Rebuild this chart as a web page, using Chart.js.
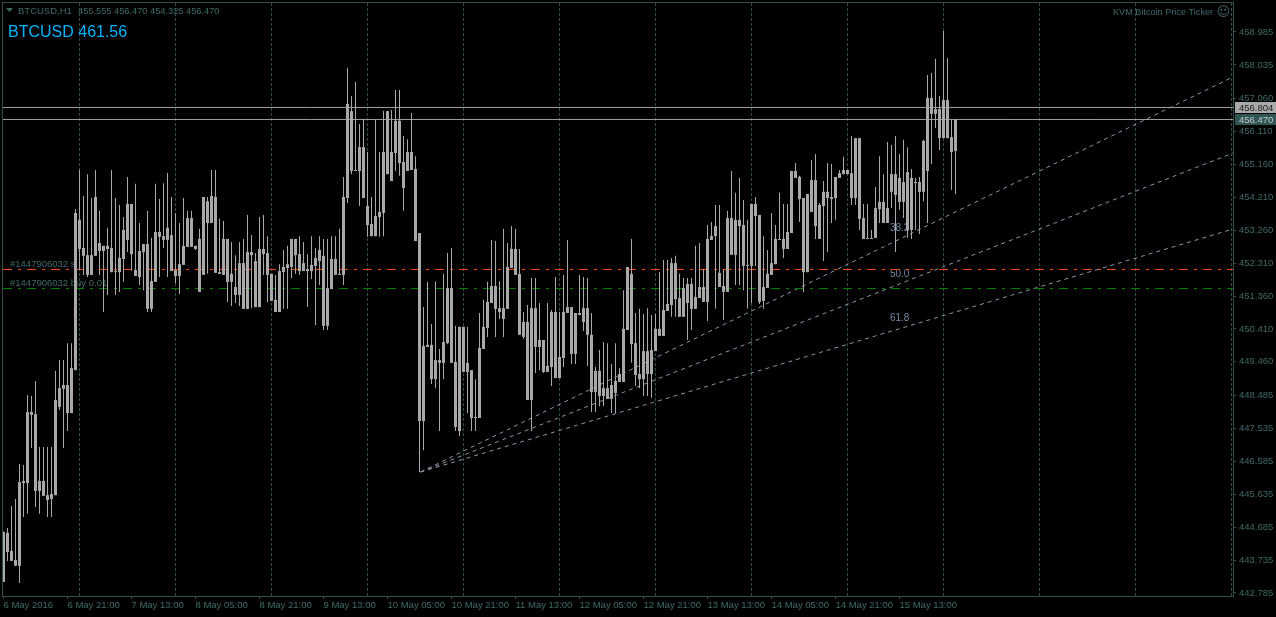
<!DOCTYPE html>
<html>
<head>
<meta charset="utf-8">
<title>BTCUSD,H1</title>
<script src="https://cdn.jsdelivr.net/npm/chart.js@4"></script>
<style>
    html, body { margin: 0; padding: 0; background: #000; overflow: hidden; }
    canvas { display: block; }
</style>
</head>
<body>
<canvas id="chart" width="1276" height="617"></canvas>
<script>
// One value per H1 bar. All bars are the same grey,
// so only the body's top and bottom can be told apart, not open and close.
const highs = [
    444.55, 444.66, 445.30, 445.50, 446.51, 446.48, 448.50, 448.47, 448.91, 447.00,
    447.00, 447.00, 447.00, 449.20, 449.51, 449.51, 450.00, 450.00, 453.87, 455.00,
    454.25, 454.88, 454.19, 455.00, 453.82, 452.81, 453.33, 455.00, 454.19, 453.99,
    453.64, 454.80, 454.02, 454.60, 453.47, 452.86, 453.82, 453.04, 454.60, 454.16,
    454.62, 454.91, 454.22, 453.76, 453.47, 454.19, 453.82, 453.82, 452.81, 453.30,
    454.22, 454.22, 455.00, 455.00, 453.59, 453.53, 453.01, 452.92, 452.54, 452.92,
    453.01, 453.70, 453.12, 452.60, 453.64, 453.70, 453.09, 452.00, 451.97, 452.28,
    452.69, 452.81, 453.01, 453.01, 453.09, 452.92, 452.57, 453.09, 452.75, 453.09,
    453.01, 453.01, 453.09, 453.09, 453.30, 454.80, 457.95, 457.14, 457.54, 456.33,
    456.47, 455.52, 454.22, 456.47, 455.52, 456.70, 456.70, 456.73, 457.31, 457.31,
    455.98, 455.89, 456.65, 455.40, 453.18, 451.04, 451.77, 450.55, 451.79, 449.83,
    452.00, 452.60, 452.75, 450.50, 450.47, 450.47, 450.47, 449.22, 448.96, 450.87,
    451.25, 451.77, 452.98, 452.95, 451.79, 453.30, 452.89, 453.38, 453.30, 452.72,
    450.90, 451.10, 451.88, 451.88, 451.16, 450.09, 451.16, 450.96, 451.91, 450.90,
    451.97, 452.98, 451.04, 450.87, 451.97, 451.91, 451.88, 450.87, 449.31, 449.80,
    450.03, 450.00, 449.40, 450.00, 449.28, 451.53, 452.20, 453.01, 450.87, 450.99,
    450.84, 451.01, 450.81, 450.84, 452.05, 452.40, 452.40, 452.46, 452.52, 452.00,
    451.88, 451.88, 451.88, 452.81, 452.89, 452.14, 453.41, 453.50, 453.99, 453.99,
    452.11, 453.82, 454.97, 454.34, 454.77, 454.13, 453.56, 454.02, 454.22, 453.70,
    453.09, 452.69, 453.76, 453.41, 454.34, 454.02, 454.02, 454.97, 455.20, 454.83,
    454.19, 454.31, 455.29, 455.46, 454.05, 454.68, 455.20, 455.17, 454.80, 455.00,
    455.38, 455.00, 455.98, 455.92, 455.92, 454.02, 454.02, 453.27, 454.51, 455.40,
    454.88, 455.81, 455.72, 455.98, 455.46, 455.87, 455.66, 455.03, 454.77, 454.80,
    455.87, 457.74, 457.80, 458.21, 457.14, 459.01, 458.23, 456.44, 456.47
];
const bodyTops = [
    444.55, 444.52, 444.00, 443.74, 445.99, 446.02, 448.01, 448.01, 447.95, 446.02,
    446.02, 445.61, 445.64, 448.36, 448.70, 448.79, 448.79, 449.28, 453.76, 453.56,
    452.75, 452.54, 452.54, 454.22, 452.89, 452.81, 452.81, 452.75, 452.08, 452.46,
    453.27, 454.02, 454.02, 452.11, 452.66, 452.86, 452.86, 451.79, 453.21, 453.21,
    453.09, 453.33, 453.12, 452.11, 452.28, 452.81, 453.61, 453.61, 452.81, 453.01,
    454.22, 454.10, 454.25, 454.22, 452.05, 453.01, 453.01, 452.00, 451.62, 452.31,
    452.31, 452.63, 452.63, 452.37, 452.72, 452.72, 452.60, 452.00, 451.25, 452.08,
    452.20, 452.28, 453.01, 453.01, 452.57, 452.31, 452.14, 452.26, 452.46, 452.69,
    452.52, 451.59, 452.43, 452.43, 452.00, 454.22, 456.91, 456.70, 455.00, 455.66,
    455.66, 453.96, 453.44, 453.67, 453.79, 455.52, 456.70, 455.52, 456.42, 456.42,
    455.23, 455.52, 455.52, 455.03, 453.18, 449.92, 449.95, 449.95, 449.51, 449.51,
    450.03, 451.59, 451.59, 449.46, 450.47, 450.47, 449.43, 449.22, 447.87, 449.86,
    450.47, 451.19, 451.65, 451.65, 451.01, 451.01, 452.20, 452.72, 452.72, 452.00,
    450.61, 450.61, 451.01, 451.01, 450.09, 450.09, 449.34, 450.90, 450.90, 449.60,
    450.90, 451.04, 451.04, 450.87, 450.87, 451.01, 451.01, 450.24, 449.20, 449.20,
    448.70, 448.70, 448.79, 448.91, 449.11, 450.41, 452.20, 452.00, 450.00, 449.11,
    449.77, 449.77, 449.80, 450.41, 450.41, 450.96, 451.13, 452.31, 452.31, 451.30,
    451.59, 451.71, 451.71, 451.33, 451.62, 451.62, 453.01, 453.09, 453.38, 452.03,
    451.65, 453.61, 453.61, 453.56, 453.56, 453.41, 452.26, 454.02, 454.02, 453.70,
    451.62, 452.00, 452.31, 453.01, 453.01, 453.01, 453.21, 454.97, 454.97, 454.80,
    454.19, 454.31, 454.71, 454.71, 453.99, 454.37, 454.37, 454.22, 454.80, 454.91,
    455.00, 455.00, 454.91, 455.92, 455.92, 453.61, 453.04, 453.04, 453.90, 454.08,
    454.08, 453.90, 454.88, 454.88, 454.77, 454.65, 454.94, 454.77, 454.65, 454.65,
    455.84, 457.08, 457.08, 456.76, 456.76, 457.02, 457.02, 455.95, 456.47
];
const bodyBottoms = [
    443.10, 443.97, 443.71, 443.57, 443.57, 445.96, 445.96, 447.93, 445.73, 445.73,
    445.59, 445.47, 445.50, 445.61, 448.16, 448.68, 447.98, 447.98, 449.22, 452.72,
    452.52, 451.97, 451.97, 452.52, 452.66, 452.66, 452.72, 452.05, 452.05, 452.05,
    452.43, 452.98, 452.57, 451.94, 451.91, 452.63, 450.99, 450.99, 451.77, 453.07,
    452.98, 452.98, 452.08, 451.94, 451.94, 452.26, 452.78, 452.78, 452.72, 451.48,
    451.97, 453.47, 453.47, 452.03, 452.00, 451.97, 451.77, 451.77, 451.39, 451.39,
    450.99, 450.99, 452.54, 451.04, 451.04, 452.57, 451.97, 451.22, 450.90, 450.90,
    452.05, 452.17, 452.20, 452.54, 452.08, 452.08, 452.08, 452.08, 452.23, 452.37,
    450.50, 450.50, 451.56, 451.97, 451.97, 451.97, 454.19, 454.97, 454.97, 454.97,
    454.19, 453.41, 453.09, 453.09, 453.64, 453.76, 454.88, 454.68, 455.49, 455.20,
    454.48, 454.97, 455.00, 452.95, 447.75, 447.75, 449.89, 448.96, 448.96, 449.43,
    449.43, 450.00, 449.43, 447.58, 447.46, 449.17, 449.17, 447.84, 447.84, 447.84,
    449.83, 450.44, 451.16, 450.99, 450.90, 450.70, 450.99, 452.17, 451.97, 450.24,
    450.18, 448.36, 448.36, 449.89, 449.89, 449.17, 449.17, 449.31, 448.99, 448.99,
    449.57, 450.87, 449.69, 449.69, 450.81, 450.61, 450.24, 448.59, 448.59, 448.47,
    448.47, 448.39, 448.39, 448.56, 448.88, 448.88, 450.38, 449.97, 449.08, 448.96,
    448.96, 449.11, 449.11, 449.77, 450.21, 450.21, 450.93, 451.10, 451.27, 450.76,
    450.76, 451.16, 450.99, 450.99, 451.30, 451.19, 451.19, 452.98, 453.09, 451.62,
    451.48, 451.48, 452.55, 452.55, 453.38, 452.23, 452.23, 452.23, 453.67, 451.19,
    451.22, 451.59, 451.97, 452.28, 452.98, 452.72, 452.72, 453.18, 454.77, 454.16,
    452.05, 452.05, 453.79, 453.38, 453.01, 453.96, 454.19, 454.16, 454.19, 454.77,
    454.88, 454.88, 454.19, 454.19, 453.59, 453.01, 453.01, 453.01, 453.04, 453.87,
    453.47, 453.47, 454.37, 454.28, 454.08, 454.08, 453.27, 453.27, 454.62, 454.37,
    454.37, 454.97, 456.62, 456.62, 455.92, 455.92, 455.92, 455.52, 455.55
];
const lows = [
    443.10, 443.71, 443.71, 443.57, 443.07, 444.98, 445.07, 446.97, 445.27, 445.07,
    445.59, 444.98, 444.98, 445.61, 448.07, 446.97, 447.46, 447.98, 449.22, 452.11,
    451.97, 451.91, 451.97, 452.52, 451.97, 450.90, 451.39, 452.05, 451.39, 451.48,
    451.77, 452.63, 452.08, 451.94, 451.68, 451.53, 450.90, 450.90, 451.77, 451.91,
    452.75, 451.91, 452.08, 451.74, 451.42, 452.26, 452.78, 452.78, 452.69, 451.48,
    451.97, 452.00, 453.47, 452.03, 452.00, 451.97, 451.19, 451.07, 451.16, 451.07,
    450.99, 450.99, 451.01, 451.04, 451.04, 451.97, 451.19, 451.22, 450.90, 450.90,
    450.99, 450.99, 451.88, 452.00, 451.97, 452.08, 451.04, 451.85, 450.52, 451.68,
    450.38, 450.38, 451.56, 451.97, 451.97, 451.68, 454.05, 454.88, 454.97, 453.96,
    454.19, 453.07, 453.09, 453.09, 453.07, 453.09, 454.88, 454.68, 454.97, 454.83,
    453.82, 454.97, 455.00, 452.95, 446.28, 446.91, 449.89, 448.82, 448.70, 447.46,
    448.96, 449.97, 449.43, 447.46, 447.32, 449.17, 447.98, 447.46, 447.46, 447.84,
    449.83, 450.18, 451.16, 450.18, 450.70, 450.18, 450.99, 452.17, 451.97, 450.24,
    450.12, 448.36, 447.46, 449.14, 449.22, 449.14, 449.17, 448.76, 448.99, 448.99,
    449.31, 450.87, 449.40, 449.40, 450.81, 450.35, 449.34, 448.01, 448.01, 448.18,
    448.18, 448.39, 447.98, 447.98, 448.88, 448.88, 450.38, 449.43, 448.76, 448.70,
    448.47, 448.47, 448.42, 449.77, 450.21, 450.21, 450.93, 450.76, 450.76, 450.76,
    450.76, 450.09, 450.38, 450.99, 451.30, 451.19, 450.64, 452.98, 450.99, 451.62,
    450.67, 451.48, 452.55, 451.68, 451.68, 451.53, 450.99, 451.16, 452.23, 451.13,
    450.99, 451.59, 451.97, 452.28, 452.98, 452.46, 452.72, 453.18, 454.77, 453.50,
    451.48, 452.05, 453.79, 453.01, 453.01, 452.37, 452.63, 453.47, 453.56, 454.77,
    454.88, 454.88, 453.99, 453.99, 453.27, 453.01, 453.01, 453.01, 453.04, 453.47,
    453.47, 453.47, 453.90, 452.63, 453.85, 453.61, 453.04, 453.01, 453.27, 453.15,
    454.10, 453.47, 455.17, 456.21, 455.58, 455.92, 455.92, 454.42, 454.30
];

// axes
const xMin = -0.125;
const xMax = 307.375;
const yMin = 442.698;
const yMax = 459.822;
const timeTicks = [0, 16, 32, 48, 64, 80, 96, 112, 128, 144, 160, 176, 192, 208, 224];
const timeLabels = [
    "6 May 2016", "6 May 21:00", "7 May 13:00", "8 May 05:00", "8 May 21:00",
    "9 May 13:00", "10 May 05:00", "10 May 21:00", "11 May 13:00", "12 May 05:00",
    "12 May 21:00", "13 May 13:00", "14 May 05:00", "14 May 21:00", "15 May 13:00"
];
const gridBars = [19, 43, 67, 91, 115, 139, 163, 187, 211, 235, 259, 283, 307];
const priceTicks = [
    458.985, 458.035, 457.060, 456.110, 455.160, 454.210, 453.260, 452.310, 451.360,
    450.410, 449.460, 448.485, 447.535, 446.585, 445.635, 444.685, 443.735, 442.785
];

// levels and Fibonacci fan
const levelPrices = [456.805, 456.458];
const slPrice = 452.127;
const buyPrice = 451.578;
const fanStart = { x: 104.25, y: 446.279 };
const fanEnds = [457.686, 455.490, 453.296];
const fanLabels = [
    { text: "38.2", x: 221.6, y: 453.32 },
    { text: "50.0", x: 221.6, y: 451.99 },
    { text: "61.8", x: 221.6, y: 450.72 }
];

const GREY = "#a9a9a9";
const TEAL = "#2f4f4f";
const TEXT_TEAL = "#3f6a6a";
const AXIS_FONT = "'Liberation Sans', sans-serif";
const AXIS_SIZE = 9.5;

function hLine(price, color, dash) {
    return {
        type: "line",
        data: [{ x: xMin, y: price }, { x: xMax, y: price }],
        borderColor: color,
        borderWidth: 1,
        borderDash: dash,
        pointRadius: 0,
        order: 2
    };
}

function fanLine(endPrice) {
    return {
        type: "line",
        data: [fanStart, { x: xMax, y: endPrice }],
        borderColor: "#8a97a8",
        borderWidth: 1,
        borderDash: [4, 4],
        pointRadius: 0,
        order: 2
    };
}

// Text that is not part of an axis: header, ticker, order labels, fan levels
const overlayText = {
    id: "overlayText",
    beforeDatasetsDraw(chart) {
        const { ctx, chartArea, scales } = chart;
        const x = scales.x;
        const y = scales.y;
        ctx.save();

        ctx.strokeStyle = TEAL;
        ctx.lineWidth = 1;
        ctx.strokeRect(chartArea.left - 0.5, chartArea.top - 0.5,
            chartArea.right - chartArea.left + 1, chartArea.bottom - chartArea.top + 1);

        ctx.textBaseline = "middle";
        ctx.textAlign = "left";

        ctx.fillStyle = TEXT_TEAL;
        ctx.beginPath();
        ctx.moveTo(6, 8);
        ctx.lineTo(13, 8);
        ctx.lineTo(9.5, 12);
        ctx.fill();

        ctx.font = AXIS_SIZE + "px " + AXIS_FONT;
        ctx.fillText("BTCUSD,H1", 18, 11);
        ctx.fillText("#1447906032 sl", 10, 264.5);
        ctx.fillText("#1447906032 buy 0.01", 10, 283.5);

        ctx.font = "9.25px " + AXIS_FONT;
        ctx.fillText("455.555 456.470 454.325 456.470", 78, 11);

        ctx.font = "9.15px " + AXIS_FONT;
        ctx.fillText("KVM Bitcoin Price Ticker", 1113, 12.5);
        ctx.font = "13px 'DejaVu Sans'";
        ctx.fillText("\u263A", 1216.5, 13);

        ctx.font = "16px 'Liberation Sans'";
        ctx.fillStyle = "#00b4ff";
        ctx.fillText("BTCUSD 461.56", 8, 33);

        ctx.font = "10px 'Liberation Sans'";
        ctx.fillStyle = "#7189a6";
        fanLabels.forEach(label => {
            ctx.fillText(label.text, x.getPixelForValue(label.x), y.getPixelForValue(label.y));
        });
        ctx.restore();
    },
    // Current price tags on the right sit over the tick labels
    afterDraw(chart) {
        const { ctx, scales } = chart;
        const y = scales.y;
        const tags = [
            { price: levelPrices[0], text: "456.804", back: "#a9a9a9", fore: "#1a1a1a" },
            { price: levelPrices[1], text: "456.470", back: "#2f5555", fore: "#c8c8c8" }
        ];
        ctx.save();
        ctx.font = AXIS_SIZE + "px " + AXIS_FONT;
        ctx.textBaseline = "middle";
        ctx.textAlign = "left";
        tags.forEach(tag => {
            const py = Math.round(y.getPixelForValue(tag.price) - 0.5);
            ctx.fillStyle = tag.back;
            ctx.fillRect(1235, py - 5, 41, 11);
            ctx.fillStyle = tag.fore;
            ctx.fillText(tag.text, 1239, py + 1);
        });
        ctx.restore();
    }
};

function noPadding(scale) {
    scale.paddingTop = 0;
    scale.paddingBottom = 0;
    scale.paddingLeft = 0;
    scale.paddingRight = 0;
}

new Chart(document.getElementById("chart"), {
    type: "bar",
    data: {
        datasets: [
            {
                label: "body",
                data: bodyTops.map((top, i) => ({ x: i, y: [bodyBottoms[i], top] })),
                backgroundColor: GREY,
                barPercentage: 0.75,
                categoryPercentage: 1,
                grouped: false,
                inflateAmount: 0,
                order: 0
            },
            {
                label: "wick",
                data: highs.map((high, i) => ({ x: i, y: [lows[i], high] })),
                backgroundColor: GREY,
                barPercentage: 0.25,
                categoryPercentage: 1,
                grouped: false,
                inflateAmount: 0,
                order: 1
            },
            hLine(levelPrices[0], "#a0a0a0"),
            hLine(levelPrices[1], "#a0a0a0"),
            hLine(slPrice, "#ff4500", [9, 6, 3, 6]),
            hLine(buyPrice, "#008000", [9, 6, 3, 6]),
            ...fanEnds.map(fanLine)
        ]
    },
    options: {
        responsive: false,
        animation: false,
        events: [],
        layout: { padding: { left: 3, top: 3, right: 0, bottom: 0 } },
        plugins: { legend: { display: false }, tooltip: { enabled: false } },
        scales: {
            x: {
                type: "linear",
                position: "bottom",
                min: xMin,
                max: xMax,
                offset: false,
                grid: { offset: false, drawOnChartArea: false, color: TEAL, tickLength: 3 },
                border: { display: false },
                ticks: {
                    autoSkip: false,
                    maxRotation: 0,
                    align: "start",
                    padding: 1,
                    color: TEXT_TEAL,
                    font: { family: AXIS_FONT, size: AXIS_SIZE },
                    callback: value => timeLabels[timeTicks.indexOf(value)]
                },
                afterBuildTicks: scale => {
                    scale.ticks = timeTicks.map(value => ({ value }));
                },
                afterFit: scale => {
                    scale.height = 21;
                    noPadding(scale);
                }
            },
            // only carries the dashed vertical grid, every 24 bars
            xGrid: {
                type: "linear",
                position: "top",
                min: xMin,
                max: xMax,
                offset: false,
                grid: { offset: false, color: TEAL, drawTicks: false },
                border: { display: false, dash: [3, 2] },
                ticks: { display: false },
                afterBuildTicks: scale => {
                    scale.ticks = gridBars.map(value => ({ value }));
                },
                afterFit: scale => {
                    scale.height = 0;
                    noPadding(scale);
                }
            },
            y: {
                type: "linear",
                position: "right",
                min: yMin,
                max: yMax,
                grid: { drawOnChartArea: false, color: TEAL, tickLength: 3 },
                border: { display: false },
                ticks: {
                    autoSkip: false,
                    padding: 3,
                    color: TEXT_TEAL,
                    font: { family: AXIS_FONT, size: AXIS_SIZE },
                    callback: value => value.toFixed(3)
                },
                afterBuildTicks: scale => {
                    scale.ticks = priceTicks.map(value => ({ value }));
                },
                afterFit: scale => {
                    scale.width = 43;
                    noPadding(scale);
                }
            }
        }
    },
    plugins: [overlayText]
});
</script>
</body>
</html>
